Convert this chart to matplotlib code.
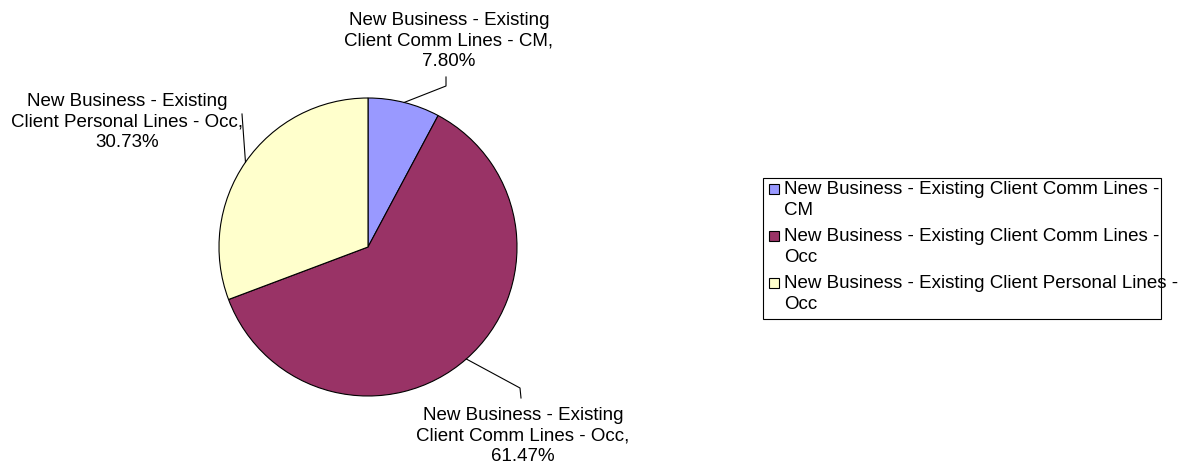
import numpy as np
import matplotlib.pyplot as plt
from matplotlib.patches import Rectangle

plt.rcParams['font.family'] = ['Liberation Sans', 'DejaVu Sans']

labels = ['New Business - Existing Client Comm Lines - CM',
          'New Business - Existing Client Comm Lines - Occ',
          'New Business - Existing Client Personal Lines - Occ']
legend_labels = ['New Business - Existing Client Comm Lines -\nCM',
                 'New Business - Existing Client Comm Lines -\nOcc',
                 'New Business - Existing Client Personal Lines -\nOcc']
data_labels = ['New Business - Existing\nClient Comm Lines - CM,\n7.80%',
               'New Business - Existing\nClient Comm Lines - Occ,\n61.47%',
               'New Business - Existing\nClient Personal Lines - Occ,\n30.73%']
shares = [7.80, 61.47, 30.73]
colors = ['#9999FF', '#993366', '#FFFFCC']

W, H = 1182, 468
FS = 13.5
fig = plt.figure(figsize=(W / 100, H / 100), dpi=100)

# pie sits in a square axes, centre (368, 247) px, radius 149 px
cx, cy, r = 368, 247, 149
ax = fig.add_axes([(cx - r) / W, (H - cy - r) / H, 2 * r / W, 2 * r / H])

wedges, _ = ax.pie(shares, colors=colors, startangle=90, counterclock=False,
                   radius=1, wedgeprops=dict(edgecolor='black', linewidth=0.8))
ax.set_xlim(-1, 1)
ax.set_ylim(-1, 1)
ax.axis('off')


def px(x, y):
    # pixel position -> data coords of the pie axes
    return (x - cx) / r, (cy - y) / r


def mid_edge(w):
    a = np.deg2rad((w.theta1 + w.theta2) / 2)
    return np.cos(a), np.sin(a)


# text centres and leader bends, in pixels
text_pos = [(449, 41), (523, 436), (127, 122)]
leaders = [[(446, 77), (446, 86)],
           [(521, 398), (520, 388)],
           [(242, 114)]]

for w, lab, tp, pts in zip(wedges, data_labels, text_pos, leaders):
    tx, ty = px(*tp)
    ax.text(tx, ty, lab, ha='center', va='center', fontsize=FS,
            linespacing=1.3, clip_on=False)
    ex, ey = mid_edge(w)
    xs = [px(*p)[0] for p in pts] + [ex]
    ys = [px(*p)[1] for p in pts] + [ey]
    ax.plot(xs, ys, color='black', linewidth=0.8, clip_on=False)

# legend box drawn by hand so the key sits on the first line of each entry
fig.patches.append(Rectangle((763 / W, 1 - 319 / H), 398 / W, 141 / H,
                             transform=fig.transFigure, facecolor='white',
                             edgecolor='black', linewidth=0.8))
row_y = [189, 236, 283]
for w, lab, y in zip(wedges, legend_labels, row_y):
    fig.patches.append(Rectangle((769 / W, 1 - (y + 5) / H), 10 / W, 10 / H,
                                 transform=fig.transFigure,
                                 facecolor=w.get_facecolor(),
                                 edgecolor='black', linewidth=0.8))
    fig.text(784 / W, 1 - (y - 8) / H, lab, ha='left', va='top',
             fontsize=FS, linespacing=1.3)

fig.savefig('out.png', dpi=100, facecolor='white')
